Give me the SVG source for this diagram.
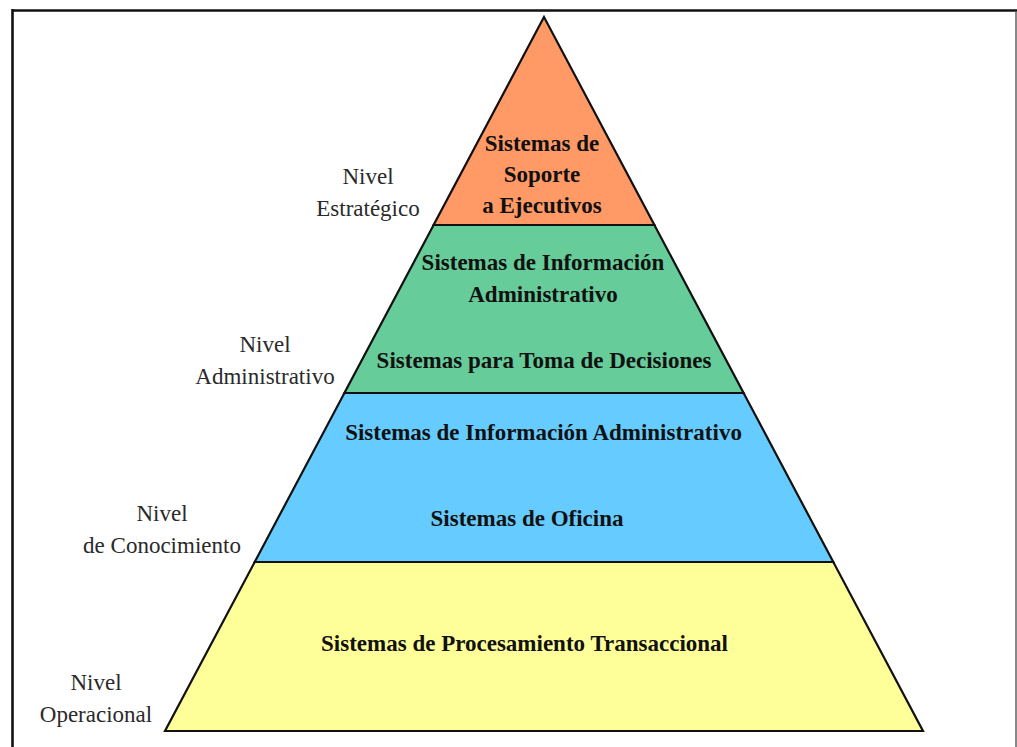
<svg xmlns="http://www.w3.org/2000/svg" width="1017" height="747" viewBox="0 0 1017 747">
  <style>
    .band { stroke: #111; stroke-width: 2.2; stroke-linejoin: miter; }
    .t { font-family: "Liberation Serif", "Times New Roman", serif; font-size: 23px; font-weight: bold; fill: #111; text-anchor: middle; }
    .lbl { font-family: "Liberation Serif", "Times New Roman", serif; font-size: 23px; fill: #2a2a2a; text-anchor: middle; }
  </style>
  <rect width="1017" height="747" fill="#ffffff"/>
  <g id="frame">
    <line x1="12" y1="10.5" x2="1017" y2="10.5" stroke="#111" stroke-width="2.6"/>
    <line x1="12.5" y1="9" x2="12.5" y2="747" stroke="#111" stroke-width="2.6"/>
    <line x1="1016" y1="11" x2="1016" y2="747" stroke="#555" stroke-width="1.4"/>
  </g>
  <g id="nivel-estrategico">
    <polygon class="band" points="544,17 433.6,225 654.4,225" fill="#FF9966"/>
    <text class="t" x="542" y="151">Sistemas de</text>
    <text class="t" x="542" y="182">Soporte</text>
    <text class="t" x="542" y="213">a Ejecutivos</text>
    <text class="lbl" x="368" y="184">Nivel</text>
    <text class="lbl" x="368" y="216">Estratégico</text>
  </g>
  <g id="nivel-administrativo">
    <polygon class="band" points="433.6,225 654.4,225 743.6,393 344.4,393" fill="#66CC99"/>
    <text class="t" x="543" y="270">Sistemas de Información</text>
    <text class="t" x="543" y="302">Administrativo</text>
    <text class="t" x="544" y="368">Sistemas para Toma de Decisiones</text>
    <text class="lbl" x="265" y="352">Nivel</text>
    <text class="lbl" x="265" y="384">Administrativo</text>
  </g>
  <g id="nivel-conocimiento">
    <polygon class="band" points="344.4,393 743.6,393 833.3,562 254.7,562" fill="#66CCFF"/>
    <text class="t" x="543.5" y="440">Sistemas de Información Administrativo</text>
    <text class="t" x="527" y="526">Sistemas de Oficina</text>
    <text class="lbl" x="162" y="521">Nivel</text>
    <text class="lbl" x="162" y="553">de Conocimiento</text>
  </g>
  <g id="nivel-operacional">
    <polygon class="band" points="254.7,562 833.3,562 923,731 165,731" fill="#FFFF99"/>
    <text class="t" x="524.5" y="651">Sistemas de Procesamiento Transaccional</text>
    <text class="lbl" x="96" y="690">Nivel</text>
    <text class="lbl" x="96" y="722">Operacional</text>
  </g>
  <g id="connectors"/>
</svg>
